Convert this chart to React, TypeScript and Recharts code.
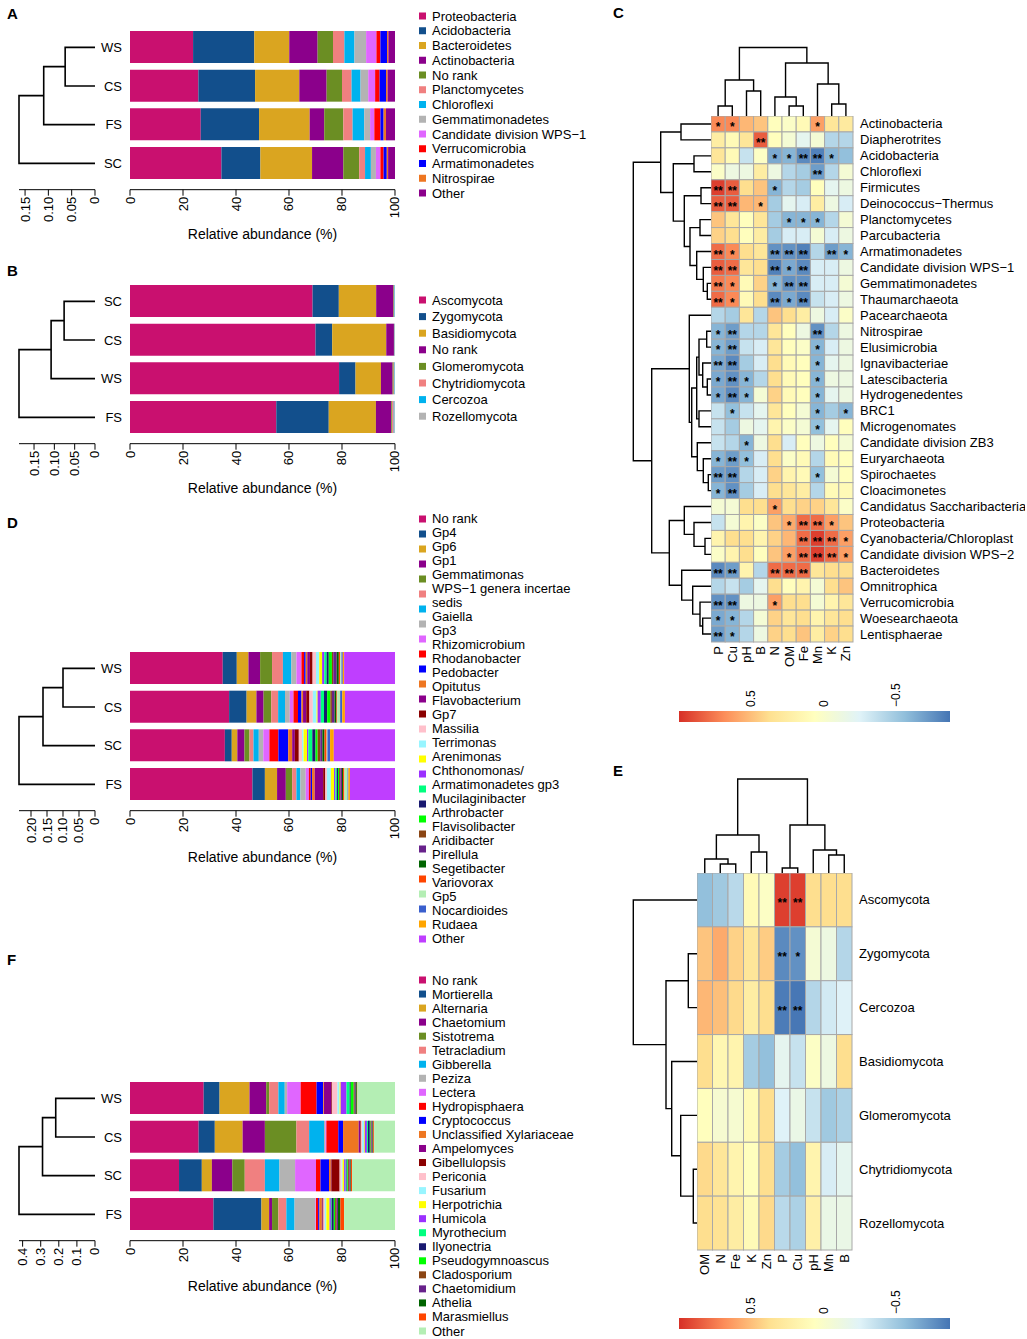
import React from 'react';
import { BarChart, Bar, XAxis, YAxis, ScatterChart, Scatter } from 'recharts';

const FONT = '"Liberation Sans", Arial, Helvetica, sans-serif';

type Merge = [number, number, number];

const PALETTE = ['#C9106F', '#124F8C', '#DAA520', '#8B008B', '#6B8E23', '#F08080', '#00B2EE', '#B3B3B3', '#E066FF', '#FF0000', '#0000FF', '#EE7621', '#8B008B', '#8B0000', '#FFC0CB', '#98F5FF', '#FFFF00', '#9B30FF', '#00FF7F', '#191970', '#00FF00', '#8B4513', '#68228B', '#006400', '#FF4500', '#B4EEB4', '#3A5FCD', '#FFA500', '#BF3EFF'];

// ---------------- Panel A (bacterial phyla) ----------------
const A_SAMPLES = ['WS', 'CS', 'FS', 'SC'];
const A_TAXA = ['Proteobacteria', 'Acidobacteria', 'Bacteroidetes', 'Actinobacteria', 'No rank', 'Planctomycetes', 'Chloroflexi', 'Gemmatimonadetes', 'Candidate division WPS−1', 'Verrucomicrobia', 'Armatimonadetes', 'Nitrospirae', 'Other'];
const A_WS = [23.8, 23.1, 13.2, 10.7, 5.8, 4.3, 3.8, 4.4, 3.9, 1.5, 2.5, 0.5, 2.5];
const A_CS = [25.8, 21.4, 16.7, 10.3, 5.8, 3.6, 3.4, 2.9, 2.6, 1.7, 2.4, 0.6, 2.8];
const A_FS = [26.7, 22.0, 19.1, 5.5, 7.2, 3.5, 4.4, 2.2, 1.6, 2.3, 1.2, 0.9, 3.4];
const A_SC = [34.5, 14.7, 19.5, 11.8, 6.0, 2.2, 2.2, 1.9, 1.7, 1.2, 1.2, 0.5, 2.6];
const A_TREE: Merge[] = [[-1, -2, 0.064], [-3, 1, 0.11], [-4, 2, 0.163]];
const A_TREE_TICKS = [0, 0.05, 0.1, 0.15];

// ---------------- Panel B (fungal phyla) ----------------
const B_SAMPLES = ['SC', 'CS', 'WS', 'FS'];
const B_TAXA = ['Ascomycota', 'Zygomycota', 'Basidiomycota', 'No rank', 'Glomeromycota', 'Chytridiomycota', 'Cercozoa', 'Rozellomycota'];
const B_SC = [68.9, 9.9, 14.1, 6.5, 0.2, 0.1, 0.2, 0.1];
const B_CS = [70.0, 6.3, 20.4, 2.9, 0.1, 0.1, 0.1, 0.1];
const B_WS = [78.9, 6.2, 9.6, 4.4, 0.4, 0.2, 0.2, 0.1];
const B_FS = [55.2, 19.8, 17.8, 5.8, 0.3, 0.6, 0.3, 0.2];
const B_TREE: Merge[] = [[-1, -2, 0.076], [-3, 1, 0.108], [-4, 2, 0.187]];
const B_TREE_TICKS = [0, 0.05, 0.1, 0.15];

// ---------------- Panel D (bacterial genera) ----------------
const D_SAMPLES = ['WS', 'CS', 'SC', 'FS'];
const D_TAXA = ['No rank', 'Gp4', 'Gp6', 'Gp1', 'Gemmatimonas', 'WPS−1 genera incertae sedis', 'Gaiella', 'Gp3', 'Rhizomicrobium', 'Rhodanobacter', 'Pedobacter', 'Opitutus', 'Flavobacterium', 'Gp7', 'Massilia', 'Terrimonas', 'Arenimonas', 'Chthonomonas/Armatimonadetes gp3', 'Mucilaginibacter', 'Arthrobacter', 'Flavisolibacter', 'Aridibacter', 'Pirellula', 'Segetibacter', 'Variovorax', 'Gp5', 'Nocardioides', 'Rudaea', 'Other'];
const D_LEGEND_LINES = ['No rank', 'Gp4', 'Gp6', 'Gp1', 'Gemmatimonas', 'WPS−1 genera incertae', 'sedis', 'Gaiella', 'Gp3', 'Rhizomicrobium', 'Rhodanobacter', 'Pedobacter', 'Opitutus', 'Flavobacterium', 'Gp7', 'Massilia', 'Terrimonas', 'Arenimonas', 'Chthonomonas/', 'Armatimonadetes gp3', 'Mucilaginibacter', 'Arthrobacter', 'Flavisolibacter', 'Aridibacter', 'Pirellula', 'Segetibacter', 'Variovorax', 'Gp5', 'Nocardioides', 'Rudaea', 'Other'];
const D_WS = [35.0, 5.3, 4.4, 4.4, 4.5, 4.1, 3.2, 1.9, 1.9, 1.0, 0.6, 0.6, 1.0, 1.0, 1.3, 1.2, 1.1, 0.8, 0.9, 0.8, 1.2, 0.5, 1.3, 0.8, 0.5, 0.5, 0.5, 0.5, 19.2];
const D_CS = [37.4, 6.6, 3.7, 2.7, 2.9, 2.6, 2.6, 1.8, 1.4, 1.7, 1.3, 0.6, 1.2, 1.2, 1.3, 1.4, 0.4, 1.2, 1.2, 1.2, 1.2, 0.6, 1.0, 0.7, 0.3, 1.1, 0.8, 1.0, 18.9];
const D_SC = [35.8, 2.6, 2.1, 2.7, 1.9, 1.5, 2.0, 1.7, 2.3, 3.4, 3.7, 1.5, 1.0, 1.5, 1.2, 0.6, 1.3, 0.5, 1.5, 1.2, 0.8, 1.0, 0.8, 0.8, 0.8, 0.3, 1.0, 1.4, 23.1];
const D_FS = [46.2, 4.7, 4.6, 3.3, 2.4, 1.6, 1.5, 2.0, 1.2, 0.7, 0.5, 1.0, 3.2, 0.8, 0.6, 1.5, 1.2, 0.5, 0.5, 0.5, 0.4, 0.5, 0.6, 0.4, 0.5, 1.2, 0.3, 0.6, 17.0];
const D_TREE: Merge[] = [[-1, -2, 0.1], [-3, 1, 0.1625], [-4, 2, 0.2375]];
const D_TREE_TICKS = [0, 0.05, 0.1, 0.15, 0.2];

// ---------------- Panel F (fungal genera) ----------------
const F_SAMPLES = ['WS', 'CS', 'SC', 'FS'];
const F_TAXA = ['No rank', 'Mortierella', 'Alternaria', 'Chaetomium', 'Sistotrema', 'Tetracladium', 'Gibberella', 'Peziza', 'Lectera', 'Hydropisphaera', 'Cryptococcus', 'Unclassified Xylariaceae', 'Ampelomyces', 'Gibellulopsis', 'Periconia', 'Fusarium', 'Herpotrichia', 'Humicola', 'Myrothecium', 'Ilyonectria', 'Pseudogymnoascus', 'Cladosporium', 'Chaetomidium', 'Athelia', 'Marasmiellus', 'Other'];
const F_WS = [27.8, 6.0, 11.3, 6.3, 1.1, 3.5, 2.4, 0.9, 5.1, 6.0, 2.5, 0.3, 2.8, 0.3, 2.0, 0.8, 0.4, 2.2, 1.2, 0.4, 1.1, 0.4, 0.4, 0.4, 0.2, 14.2];
const F_CS = [25.9, 6.1, 10.5, 8.4, 11.9, 4.8, 5.6, 0.5, 0.4, 4.5, 1.8, 5.9, 0.5, 0.3, 0.5, 0.7, 0.3, 0.8, 0.4, 0.7, 0.3, 0.3, 0.4, 0.3, 0.3, 7.9];
const F_SC = [18.5, 8.6, 3.8, 7.7, 4.7, 7.6, 5.5, 5.9, 7.9, 1.7, 3.2, 0.7, 0.2, 3.1, 0.7, 0.4, 0.6, 0.6, 0.3, 0.3, 0.3, 0.5, 0.4, 0.2, 0.4, 16.2];
const F_FS = [31.5, 18.1, 2.9, 1.1, 2.4, 3.0, 3.1, 7.9, 0.2, 0.8, 0.5, 0.9, 0.3, 0.3, 0.5, 0.6, 1.2, 0.5, 0.3, 0.8, 0.5, 0.6, 0.5, 0.9, 1.4, 19.2];
const F_TREE: Merge[] = [[-1, -2, 0.217], [-3, 1, 0.29], [-4, 2, 0.42]];
const F_TREE_TICKS = [0, 0.1, 0.2, 0.3, 0.4];

// ---------------- Panel C (bacterial correlation heatmap) ----------------
const C_COLS = ['P', 'Cu', 'pH', 'B', 'N', 'OM', 'Fe', 'Mn', 'K', 'Zn'];
const C_ROWS = ['Actinobacteria', 'Diapherotrites', 'Acidobacteria', 'Chloroflexi', 'Firmicutes', 'Deinococcus−Thermus', 'Planctomycetes', 'Parcubacteria', 'Armatimonadetes', 'Candidate division WPS−1', 'Gemmatimonadetes', 'Thaumarchaeota', 'Pacearchaeota', 'Nitrospirae', 'Elusimicrobia', 'Ignavibacteriae', 'Latescibacteria', 'Hydrogenedentes', 'BRC1', 'Microgenomates', 'Candidate division ZB3', 'Euryarchaeota', 'Spirochaetes', 'Cloacimonetes', 'Candidatus Saccharibacteria', 'Proteobacteria', 'Cyanobacteria/Chloroplast', 'Candidate division WPS−2', 'Bacteroidetes', 'Omnitrophica', 'Verrucomicrobia', 'Woesearchaeota', 'Lentisphaerae'];
const C_VALUES = [
  [0.70, 0.70, 0.53, 0.48, 0.08, 0.02, 0.12, 0.62, 0.32, 0.28],
  [0.25, 0.12, 0.32, 0.85, 0.08, -0.05, -0.20, -0.05, -0.42, -0.42],
  [0.32, 0.12, -0.35, 0.03, -0.65, -0.60, -0.78, -0.82, -0.60, -0.55],
  [0.02, -0.12, -0.12, 0.25, -0.12, -0.42, -0.48, -0.70, -0.42, -0.05],
  [0.95, 0.85, 0.38, 0.48, -0.60, -0.42, -0.48, 0.08, -0.20, -0.12],
  [0.85, 0.85, 0.53, 0.53, -0.48, -0.20, -0.28, 0.25, -0.12, -0.28],
  [0.48, 0.32, 0.08, 0.32, -0.48, -0.60, -0.60, -0.60, -0.42, -0.05],
  [0.43, 0.38, 0.08, 0.25, -0.48, -0.28, -0.28, -0.05, -0.28, -0.12],
  [0.80, 0.70, 0.38, 0.32, -0.75, -0.75, -0.82, -0.42, -0.70, -0.60],
  [0.85, 0.80, 0.32, 0.38, -0.82, -0.65, -0.78, -0.28, -0.28, -0.12],
  [0.75, 0.70, 0.12, 0.43, -0.60, -0.75, -0.75, -0.28, -0.28, -0.05],
  [0.80, 0.70, 0.12, 0.38, -0.78, -0.65, -0.78, -0.35, -0.28, -0.12],
  [-0.42, -0.48, 0.32, -0.42, 0.48, 0.38, 0.25, -0.12, -0.28, 0.02],
  [-0.60, -0.70, -0.42, -0.42, 0.32, 0.08, -0.12, -0.75, -0.42, -0.12],
  [-0.60, -0.70, -0.35, -0.28, 0.32, 0.08, 0.02, -0.60, -0.28, -0.12],
  [-0.65, -0.78, -0.48, -0.28, 0.38, 0.12, 0.08, -0.60, -0.20, -0.12],
  [-0.65, -0.75, -0.60, -0.42, 0.38, 0.12, 0.08, -0.60, -0.12, -0.12],
  [-0.65, -0.78, -0.60, -0.05, 0.43, 0.12, 0.08, -0.60, -0.20, -0.12],
  [-0.35, -0.55, -0.35, -0.20, 0.32, 0.08, -0.05, -0.60, -0.48, -0.60],
  [-0.35, -0.48, -0.12, -0.20, 0.18, 0.02, -0.05, -0.55, -0.20, 0.08],
  [-0.35, -0.42, -0.60, -0.12, 0.38, -0.28, 0.08, -0.12, 0.08, -0.05],
  [-0.60, -0.70, -0.55, -0.28, 0.38, 0.02, 0.12, -0.42, 0.12, 0.08],
  [-0.70, -0.75, -0.42, -0.28, 0.43, 0.18, 0.12, -0.55, -0.05, 0.08],
  [-0.60, -0.75, -0.48, -0.28, 0.38, 0.32, 0.25, -0.42, 0.12, 0.12],
  [-0.05, -0.05, 0.38, 0.38, 0.62, 0.38, 0.43, 0.43, 0.32, 0.02],
  [-0.35, -0.05, 0.18, 0.03, 0.48, 0.58, 0.80, 0.80, 0.62, 0.48],
  [0.18, 0.38, 0.38, 0.18, 0.43, 0.53, 0.80, 0.95, 0.80, 0.62],
  [0.02, 0.18, 0.38, 0.08, 0.48, 0.62, 0.80, 0.95, 0.80, 0.62],
  [-0.78, -0.70, 0.18, -0.42, 0.80, 0.80, 0.80, 0.32, 0.38, 0.38],
  [-0.42, -0.35, -0.48, -0.20, 0.38, 0.08, 0.18, -0.05, 0.38, 0.48],
  [-0.75, -0.75, -0.12, -0.12, 0.62, 0.38, 0.38, -0.05, 0.18, 0.32],
  [-0.65, -0.60, -0.42, -0.05, 0.43, 0.32, 0.38, 0.18, 0.32, 0.38],
  [-0.70, -0.60, -0.42, -0.12, 0.43, 0.38, 0.48, 0.25, 0.43, 0.38],
];
// number of significance stars per cell (digit per column)
const C_STARS = ['1100000100', '0002000000', '0000112210', '0000000200', '2200100000', '2201000000', '0000011100', '0000000000', '2100222021', '2200212000', '2100122000', '2100212000', '0000000000', '1200000200', '1200000100', '2200000100', '1210000100', '1210000100', '0100000101', '0000000100', '0010000000', '1210000000', '2200000100', '1200000000', '0000100000', '0000012210', '0000002221', '0000012221', '2200222000', '0000000000', '2200100000', '1100000000', '2100000000'];
const C_COL_TREE: Merge[] = [[-1, -2, 10], [-3, -4, 25], [1, 2, 36], [-6, -7, 10], [-5, 4, 19], [-9, -10, 12], [-8, 6, 32], [5, 7, 53], [3, 8, 68.5]];
const C_ROW_TREE: Merge[] = [
  [-1, -2, 30], [-3, -4, 17], [-5, -6, 10], [-7, -8, 11], [-11, -12, 3.7], [-10, 5, 7.7], [-9, 6, 14.3], [4, 7, 21], [3, 8, 26.7], [2, 9, 37.7], [1, 10, 50.3],
  [-14, -15, 4.3], [-17, -18, 3.7], [-16, 13, 8.3], [12, 14, 12], [-19, -20, 12], [15, 16, 14.3], [-23, -24, 2.7], [-22, 18, 7.7], [-21, 19, 13.7], [17, 20, 19.3], [-13, 21, 21.7],
  [-27, -28, 6], [-26, 23, 17], [-25, 24, 26.7], [-32, -33, 8.3], [-31, 26, 11], [-30, 27, 18.3], [-29, 28, 29.3], [25, 29, 41.7], [22, 30, 59.3], [11, 31, 77.7],
];

// ---------------- Panel E (fungal correlation heatmap) ----------------
const E_COLS = ['OM', 'N', 'Fe', 'K', 'Zn', 'P', 'Cu', 'pH', 'Mn', 'B'];
const E_ROWS = ['Ascomycota', 'Zygomycota', 'Cercozoa', 'Basidiomycota', 'Glomeromycota', 'Chytridiomycota', 'Rozellomycota'];
const E_VALUES = [
  [-0.55, -0.50, -0.40, 0.12, 0.03, 0.95, 0.95, 0.38, 0.38, 0.38],
  [0.48, 0.58, 0.43, 0.32, 0.45, -0.78, -0.75, -0.05, -0.12, -0.42],
  [0.53, 0.50, 0.40, 0.25, 0.38, -0.84, -0.86, -0.42, -0.30, -0.25],
  [0.38, 0.15, 0.18, -0.48, -0.55, -0.20, -0.35, 0.03, -0.12, 0.38],
  [0.08, -0.03, -0.03, 0.12, 0.38, -0.25, -0.15, -0.35, -0.50, -0.45],
  [0.40, 0.32, 0.18, 0.08, 0.38, -0.48, -0.55, 0.18, -0.28, -0.20],
  [0.38, 0.35, 0.25, 0.12, 0.40, -0.40, -0.45, 0.22, -0.15, -0.15],
];
const E_STARS = ['0000022000', '0000021000', '0000022000', '0000000000', '0000000000', '0000000000', '0000000000'];
const E_COL_TREE: Merge[] = [[-2, -3, 9], [-1, 1, 14], [-4, -5, 21], [2, 3, 38], [-6, -7, 5], [-9, -10, 18], [-8, 6, 23], [5, 7, 48], [4, 8, 94]];
const E_ROW_TREE: Merge[] = [[-2, -3, 8.7], [-6, -7, 3.7], [-5, 2, 16.3], [-4, 3, 25.3], [1, 4, 31], [-1, 5, 63.7]];

// colour scale (RdYlBu, red = positive)
const RAMP = ['#D73027', '#FC8D59', '#FEE090', '#FFFFBF', '#E0F3F8', '#91BFDB', '#4575B4'];
const V_MAX = 1.0;
const V_MIN = -0.87;
const CB_TICKS = [0.5, 0, -0.5];

function hexRgb(h: string) {
  return [parseInt(h.slice(1, 3), 16), parseInt(h.slice(3, 5), 16), parseInt(h.slice(5, 7), 16)];
}
function corColor(v: number) {
  const t = Math.min(1, Math.max(0, (V_MAX - v) / (V_MAX - V_MIN))) * (RAMP.length - 1);
  const i = Math.min(RAMP.length - 2, Math.floor(t));
  const f = t - i;
  const a = hexRgb(RAMP[i]);
  const b = hexRgb(RAMP[i + 1]);
  const c = a.map((x, k) => Math.round(x + (b[k] - x) * f));
  return `rgb(${c[0]},${c[1]},${c[2]})`;
}

// ---------------- helpers ----------------
function RotTick(props: any) {
  const { x, y, payload, fmt, fs = 13, dy = 0, anchor = 'end' } = props;
  const label = fmt ? fmt(payload.value) : String(payload.value);
  return (
    <text transform={`translate(${x},${y + dy}) rotate(-90)`} textAnchor={anchor} dominantBaseline="central" fontSize={fs} fontFamily={FONT} fill="#000">
      {label}
    </text>
  );
}

function dendroSegments(merges: Merge[]) {
  const pos: number[] = [];
  const hts: number[] = [];
  const segs: { p: number; h: number }[][] = [];
  const node = (id: number) => (id < 0 ? { p: -id - 1, h: 0 } : { p: pos[id - 1], h: hts[id - 1] });
  merges.forEach(([a, b, h], k) => {
    const A = node(a);
    const B = node(b);
    pos[k] = (A.p + B.p) / 2;
    hts[k] = h;
    segs.push([{ p: A.p, h: A.h }, { p: A.p, h }, { p: B.p, h }, { p: B.p, h: B.h }]);
  });
  return segs;
}

const NoDot = () => <g />;

function Dendro(props: any) {
  const { left, top, width, height, merges, n, hMax, orient, padBottom = 0, axisHeight = 0, ticks, fmt, sw = 1.6 } = props;
  const segs = dendroSegments(merges);
  const M = 3;
  const isLeft = orient === 'left';
  const hasAxis = !!ticks;
  const MR = hasAxis ? 10 : M;
  return (
    <div style={{ position: 'absolute', left: left - M, top: top - M }}>
      <ScatterChart width={width + M + MR} height={height + M + (hasAxis ? 0 : M)} margin={{ top: M, right: MR, bottom: hasAxis ? 0 : M, left: M }}>
        {isLeft ? (
          <XAxis type="number" dataKey="h" domain={[0, hMax]} reversed hide={!hasAxis} ticks={ticks} interval={0} height={axisHeight} stroke="#000" tick={(p: any) => <RotTick {...p} fmt={fmt} fs={13} dy={-1} />} />
        ) : (
          <XAxis type="number" dataKey="p" domain={[-0.5, n - 0.5]} hide />
        )}
        {isLeft ? (
          <YAxis type="number" dataKey="p" domain={[-0.5, n - 0.5]} reversed hide padding={{ top: 0, bottom: padBottom }} />
        ) : (
          <YAxis type="number" dataKey="h" domain={[0, hMax]} hide />
        )}
        {segs.map((s, i) => (
          <Scatter key={i} data={s} line={{ stroke: '#000', strokeWidth: sw }} lineType="joint" shape={NoDot} isAnimationActive={false} />
        ))}
      </ScatterChart>
    </div>
  );
}

const BAND = 38.67;
const PAD_B = 7;
const PLOT_H = BAND * 4 + PAD_B;
const AXIS_H = 40;

const SampleTick = (p: any) => (
  <text x={p.x} y={p.y} textAnchor="end" dominantBaseline="central" fontSize={13} fontFamily={FONT} fill="#000">
    {p.payload.value}
  </text>
);

function StackPanel(props: any) {
  const { top, samples, values, colors, tree, treeMax, treeTicks, treeFmt } = props;
  const data = samples.map((s: string, i: number) => {
    const row: Record<string, any> = { sample: s };
    values[i].forEach((v: number, k: number) => {
      row['t' + k] = v;
    });
    return row;
  });
  return (
    <>
      <div style={{ position: 'absolute', left: 95, top }}>
        <BarChart layout="vertical" width={310} height={PLOT_H + AXIS_H} data={data} margin={{ top: 0, right: 10, bottom: 0, left: 0 }} barSize={32}>
          <XAxis type="number" domain={[0, 100]} ticks={[0, 20, 40, 60, 80, 100]} interval={0} stroke="#000" height={AXIS_H} tick={(p: any) => <RotTick {...p} fs={13} dy={-1} />} />
          <YAxis type="category" dataKey="sample" width={35} axisLine={false} tickLine={false} padding={{ top: 0, bottom: PAD_B }} tick={SampleTick} />
          {colors.map((c: string, k: number) => (
            <Bar key={k} dataKey={'t' + k} stackId="s" fill={c} isAnimationActive={false} />
          ))}
        </BarChart>
      </div>
      <Dendro left={19} top={top} width={76} height={PLOT_H + AXIS_H} merges={tree} n={samples.length} hMax={treeMax} orient="left" padBottom={PAD_B} axisHeight={AXIS_H} ticks={treeTicks} fmt={treeFmt} />
    </>
  );
}

function Heatmap(props: any) {
  const { left, top, gridW, gridH, rows, cols, values, stars, labelW, colLabelH, starFs } = props;
  const data: any[] = [];
  values.forEach((r: number[], i: number) =>
    r.forEach((v: number, j: number) => {
      const k = Number(stars[i][j]);
      data.push({ x: j, y: i, v, s: k === 2 ? '**' : k === 1 ? '*' : '' });
    })
  );
  const cw = gridW / cols.length;
  const ch = gridH / rows.length;
  const Cell = (p: any) => {
    const { cx, cy, payload } = p;
    return (
      <g>
        <rect x={cx - cw / 2} y={cy - ch / 2} width={cw} height={ch} fill={corColor(payload.v)} stroke="#A8A8A8" strokeWidth={1} />
        {payload.s ? (
          <text x={cx} y={cy + starFs * 0.28} textAnchor="middle" dominantBaseline="central" fontSize={starFs} fontWeight="bold" fontFamily={FONT} fill="#000">
            {payload.s}
          </text>
        ) : null}
      </g>
    );
  };
  return (
    <div style={{ position: 'absolute', left, top }}>
      <ScatterChart width={gridW + labelW} height={gridH + colLabelH} margin={{ top: 0, right: 0, bottom: 0, left: 0 }}>
        <XAxis type="number" dataKey="x" domain={[-0.5, cols.length - 0.5]} ticks={cols.map((_: string, i: number) => i)} interval={0} axisLine={false} tickLine={false} tickSize={0} tickMargin={4} height={colLabelH} tick={(p: any) => <RotTick {...p} fmt={(i: number) => cols[i]} fs={13} />} />
        <YAxis type="number" dataKey="y" orientation="right" domain={[-0.5, rows.length - 0.5]} reversed ticks={rows.map((_: string, i: number) => i)} interval={0} axisLine={false} tickLine={false} tickSize={0} tickMargin={7} width={labelW} tick={(p: any) => (
          <text x={p.x} y={p.y} textAnchor="start" dominantBaseline="central" fontSize={13} fontFamily={FONT} fill="#000">{rows[p.payload.value]}</text>
        )} />
        <Scatter data={data} shape={Cell} isAnimationActive={false} />
      </ScatterChart>
    </div>
  );
}

function ColorBar(props: any) {
  const { barTop, id } = props;
  const H = 11;
  const AX = 30;
  return (
    <div style={{ position: 'absolute', left: 679, top: barTop - AX }}>
      <BarChart layout="vertical" width={271} height={AX + H} data={[{ k: 'scale', r: [V_MIN, V_MAX] }]} margin={{ top: 0, right: 0, bottom: 0, left: 0 }} barCategoryGap={0}>
        <defs>
          <linearGradient id={id} x1="0" y1="0" x2="1" y2="0">
            {RAMP.map((c, i) => (
              <stop key={i} offset={i / (RAMP.length - 1)} stopColor={c} />
            ))}
          </linearGradient>
        </defs>
        <XAxis type="number" orientation="top" domain={[V_MIN, V_MAX]} reversed ticks={CB_TICKS} interval={0} axisLine={false} tickLine={false} tickSize={0} tickMargin={4} height={AX} tick={(p: any) => <RotTick {...p} anchor="start" fs={12} fmt={(v: number) => (v < 0 ? '−' + Math.abs(v) : String(v))} />} />
        <YAxis type="category" dataKey="k" hide />
        <Bar dataKey="r" fill={`url(#${id})`} isAnimationActive={false} />
      </BarChart>
    </div>
  );
}

function LegendBlock(props: any) {
  const { lines, colors, y0, step, sqY0, sqStep } = props;
  const sy0 = sqY0 ?? y0;
  const ss = sqStep ?? step;
  return (
    <g>
      {colors.map((c: string, i: number) => (
        <rect key={'r' + i} x={419} y={sy0 + i * ss - 3.5} width={7} height={7} fill={c} />
      ))}
      {lines.map((t: string, i: number) => (
        <text key={'t' + i} x={432} y={y0 + i * step} dominantBaseline="central" fontSize={13} fontFamily={FONT} fill="#000">
          {t}
        </text>
      ))}
    </g>
  );
}

const fmt2 = (v: number) => (v === 0 ? '0' : v.toFixed(2));
const fmt1 = (v: number) => (v === 0 ? '0' : v.toFixed(1));

export default function App() {
  const titleProps = { fontSize: 14, fontFamily: FONT, textAnchor: 'middle' as const, dominantBaseline: 'central' as const, fill: '#000' };
  const letterProps = { fontSize: 15, fontWeight: 'bold' as const, fontFamily: FONT, fill: '#000' };
  return (
    <div style={{ position: 'absolute', left: 0, top: 0, width: 1027, height: 1339, background: '#fff', overflow: 'hidden', fontFamily: FONT }}>
      <StackPanel top={28.2} samples={A_SAMPLES} values={[A_WS, A_CS, A_FS, A_SC]} colors={[...PALETTE.slice(0, 12), '#8B008B']} tree={A_TREE} treeMax={0.163} treeTicks={A_TREE_TICKS} treeFmt={fmt2} />
      <StackPanel top={281.8} samples={B_SAMPLES} values={[B_SC, B_CS, B_WS, B_FS]} colors={PALETTE.slice(0, 8)} tree={B_TREE} treeMax={0.187} treeTicks={B_TREE_TICKS} treeFmt={fmt2} />
      <StackPanel top={649} samples={D_SAMPLES} values={[D_WS, D_CS, D_SC, D_FS]} colors={PALETTE} tree={D_TREE} treeMax={0.2375} treeTicks={D_TREE_TICKS} treeFmt={fmt2} />
      <StackPanel top={1079} samples={F_SAMPLES} values={[F_WS, F_CS, F_SC, F_FS]} colors={PALETTE.slice(0, 26)} tree={F_TREE} treeMax={0.42} treeTicks={F_TREE_TICKS} treeFmt={fmt1} />

      <Heatmap left={711} top={116} gridW={142} gridH={526} rows={C_ROWS} cols={C_COLS} values={C_VALUES} stars={C_STARS} labelW={172} colLabelH={45} starFs={12} />
      <Dendro left={711} top={47} width={142} height={69} merges={C_COL_TREE} n={C_COLS.length} hMax={69} orient="top" sw={1.4} />
      <Dendro left={633} top={116} width={78} height={526} merges={C_ROW_TREE} n={C_ROWS.length} hMax={78} orient="left" sw={1.4} />
      <ColorBar barTop={711} id="cbC" />

      <Heatmap left={697} top={873} gridW={155} gridH={377} rows={E_ROWS} cols={E_COLS} values={E_VALUES} stars={E_STARS} labelW={165} colLabelH={45} starFs={12} />
      <Dendro left={697} top={779} width={155} height={94} merges={E_COL_TREE} n={E_COLS.length} hMax={94} orient="top" sw={1.4} />
      <Dendro left={633} top={873} width={64} height={377} merges={E_ROW_TREE} n={E_ROWS.length} hMax={64} orient="left" sw={1.4} />
      <ColorBar barTop={1318} id="cbE" />

      <svg width={1027} height={1339} style={{ position: 'absolute', left: 0, top: 0, pointerEvents: 'none' }}>
        <text x={7} y={18.5} {...letterProps}>A</text>
        <text x={7} y={276} {...letterProps}>B</text>
        <text x={613} y={18} {...letterProps}>C</text>
        <text x={7} y={528} {...letterProps}>D</text>
        <text x={613} y={776} {...letterProps}>E</text>
        <text x={7} y={965} {...letterProps}>F</text>

        <text x={262.5} y={234} {...titleProps}>Relative abundance (%)</text>
        <text x={262.5} y={488} {...titleProps}>Relative abundance (%)</text>
        <text x={262.5} y={857} {...titleProps}>Relative abundance (%)</text>
        <text x={262.5} y={1286} {...titleProps}>Relative abundance (%)</text>

        <LegendBlock lines={A_TAXA} colors={[...PALETTE.slice(0, 12), '#8B008B']} y0={16} step={14.75} />
        <LegendBlock lines={B_TAXA} colors={PALETTE.slice(0, 8)} y0={300} step={16.6} />
        <LegendBlock lines={D_LEGEND_LINES} colors={PALETTE} y0={518} step={14.0} sqY0={519} sqStep={15.0} />
        <LegendBlock lines={F_TAXA} colors={PALETTE.slice(0, 26)} y0={980} step={14.04} />
      </svg>
    </div>
  );
}
